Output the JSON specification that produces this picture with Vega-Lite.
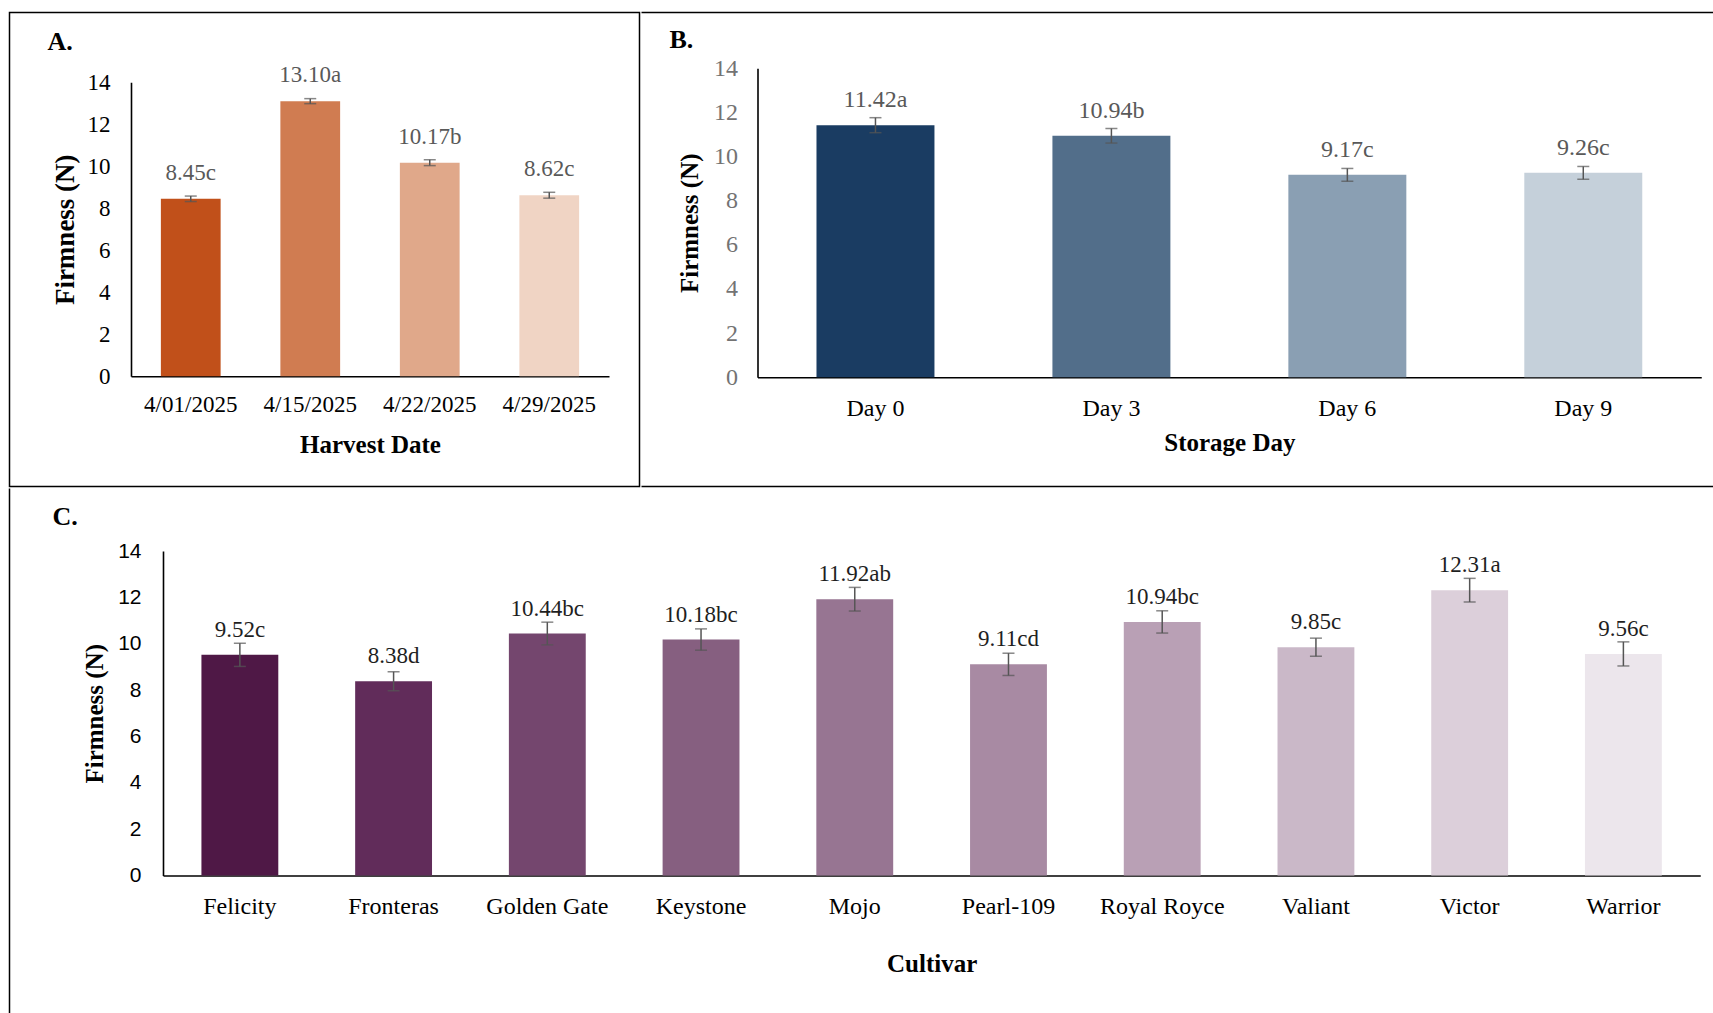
{
  "$schema": "https://vega.github.io/schema/vega-lite/v6.json",
  "padding": {"left": 8.5, "top": 11.5, "right": 0, "bottom": 0},
  "background": "white",
  "spacing": 0,
  "config": {
    "font": "Liberation Serif",
    "axis": {"grid": false, "ticks": false, "tickSize": 0, "domainColor": "#000000", "domainWidth": 1.6, "labelFont": "Liberation Serif", "titleFont": "Liberation Serif", "titleFontWeight": "bold", "labelColor": "#000000", "titleColor": "#000000"},
    "legend": {"disable": true}
  },
  "resolve": {"scale": {"color": "independent", "x": "independent", "y": "independent"}},
  "datasets": {
    "harvest": [
      {"date": "4/01/2025", "mean": 8.45, "se": 0.13, "label": "8.45c"},
      {"date": "4/15/2025", "mean": 13.10, "se": 0.12, "label": "13.10a"},
      {"date": "4/22/2025", "mean": 10.17, "se": 0.14, "label": "10.17b"},
      {"date": "4/29/2025", "mean": 8.62, "se": 0.14, "label": "8.62c"}
    ],
    "storage": [
      {"day": "Day 0", "mean": 11.42, "se": 0.34, "label": "11.42a"},
      {"day": "Day 3", "mean": 10.94, "se": 0.33, "label": "10.94b"},
      {"day": "Day 6", "mean": 9.17, "se": 0.29, "label": "9.17c"},
      {"day": "Day 9", "mean": 9.26, "se": 0.29, "label": "9.26c"}
    ],
    "cultivar": [
      {"cultivar": "Felicity", "mean": 9.52, "se": 0.50, "label": "9.52c"},
      {"cultivar": "Fronteras", "mean": 8.38, "se": 0.41, "label": "8.38d"},
      {"cultivar": "Golden Gate", "mean": 10.44, "se": 0.49, "label": "10.44bc"},
      {"cultivar": "Keystone", "mean": 10.18, "se": 0.46, "label": "10.18bc"},
      {"cultivar": "Mojo", "mean": 11.92, "se": 0.51, "label": "11.92ab"},
      {"cultivar": "Pearl-109", "mean": 9.11, "se": 0.48, "label": "9.11cd"},
      {"cultivar": "Royal Royce", "mean": 10.94, "se": 0.48, "label": "10.94bc"},
      {"cultivar": "Valiant", "mean": 9.85, "se": 0.39, "label": "9.85c"},
      {"cultivar": "Victor", "mean": 12.31, "se": 0.51, "label": "12.31a"},
      {"cultivar": "Warrior", "mean": 9.56, "se": 0.52, "label": "9.56c"}
    ]
  },
  "vconcat": [
    {
      "hconcat": [
        {
          "width": 630,
          "height": 474,
          "view": {"stroke": "#000000", "strokeWidth": 1.5, "fill": "white"},
          "title": {"text": "A.", "anchor": "start", "frame": "group", "offset": -63, "dx": 38, "baseline": "alphabetic", "font": "Liberation Serif", "fontSize": 26, "fontWeight": "bold", "color": "#000000"},
          "data": {"name": "harvest"},
          "encoding": {
            "x": {"field": "date", "type": "nominal", "sort": null,
              "scale": {"range": [121.5, 599.5], "paddingInner": 0.5, "paddingOuter": 0.25},
              "axis": {"title": "Harvest  Date", "labelAngle": 0, "labelFontSize": 23, "titleFontSize": 25, "labelPadding": 17, "titlePadding": 16, "offset": -110.25}},
            "y": {"field": "mean", "type": "quantitative",
              "scale": {"domain": [0, 14], "range": [363.75, 69.75], "nice": false, "zero": true},
              "axis": {"title": "Firmness (N)", "values": [0, 2, 4, 6, 8, 10, 12, 14], "labelFontSize": 23, "titleFontSize": 27, "labelPadding": 21, "titlePadding": 8, "offset": -121.5}}
          },
          "layer": [
            {"mark": {"type": "bar"},
             "encoding": {"color": {"field": "date", "type": "nominal", "sort": null,
               "scale": {"domain": ["4/01/2025", "4/15/2025", "4/22/2025", "4/29/2025"], "range": ["#C1501A", "#D07C51", "#E0A88A", "#F0D4C4"]}}}},
            {"mark": {"type": "errorbar", "ticks": {"size": 12, "thickness": 1.5}, "thickness": 1.5, "color": "#555555"},
             "encoding": {"yError": {"field": "se"}}},
            {"mark": {"type": "text", "baseline": "alphabetic", "dy": -19, "fontSize": 23, "color": "#595959", "font": "Liberation Serif"},
             "encoding": {"text": {"field": "label"}}}
          ]
        },
        {
          "width": 1073,
          "height": 474,
          "view": {"stroke": "#000000", "strokeWidth": 1.5, "fill": "white", "strokeDash": [1073, 474, 1073, 474]},
          "title": {"text": "B.", "anchor": "start", "frame": "group", "offset": -61, "dx": 28, "baseline": "alphabetic", "font": "Liberation Serif", "fontSize": 26, "fontWeight": "bold", "color": "#000000"},
          "data": {"name": "storage"},
          "encoding": {
            "x": {"field": "day", "type": "nominal", "sort": null,
              "scale": {"range": [116, 1059.75], "paddingInner": 0.5, "paddingOuter": 0.25},
              "axis": {"title": "Storage Day", "labelAngle": 0, "labelFontSize": 24, "titleFontSize": 25, "labelPadding": 19, "titlePadding": 10, "offset": -109.25}},
            "y": {"field": "mean", "type": "quantitative",
              "scale": {"domain": [0, 14], "range": [364.75, 55.75], "nice": false, "zero": true},
              "axis": {"title": "Firmness  (N)", "values": [0, 2, 4, 6, 8, 10, 12, 14], "labelFontSize": 24, "labelColor": "#737373", "titleFontSize": 25, "labelPadding": 20, "titlePadding": 11, "offset": -116}}
          },
          "layer": [
            {"mark": {"type": "bar"},
             "encoding": {"color": {"field": "day", "type": "nominal", "sort": null,
               "scale": {"domain": ["Day 0", "Day 3", "Day 6", "Day 9"], "range": ["#1A3C62", "#526E8A", "#8A9FB3", "#C5D0DA"]}}}},
            {"mark": {"type": "errorbar", "ticks": {"size": 12, "thickness": 1.5}, "thickness": 1.5, "color": "#555555"},
             "encoding": {"yError": {"field": "se"}}},
            {"mark": {"type": "text", "baseline": "alphabetic", "dy": -18, "fontSize": 24, "color": "#595959", "font": "Liberation Serif"},
             "encoding": {"text": {"field": "label"}}}
          ]
        }
      ],
      "spacing": 0,
      "resolve": {"scale": {"color": "independent", "x": "independent", "y": "independent"}}
    },
    {
      "width": 1703,
      "height": 526,
      "view": {"stroke": "#000000", "strokeWidth": 1.5, "fill": "white", "strokeDash": [0, 3932, 600, 0]},
      "title": {"text": "C.", "anchor": "start", "frame": "group", "offset": -62, "dx": 43, "baseline": "alphabetic", "font": "Liberation Serif", "fontSize": 26, "fontWeight": "bold", "color": "#000000"},
      "data": {"name": "cultivar"},
      "encoding": {
        "x": {"field": "cultivar", "type": "nominal", "sort": null,
          "scale": {"range": [153.5, 1690.75], "paddingInner": 0.5, "paddingOuter": 0.25},
          "axis": {"title": "Cultivar", "labelAngle": 0, "labelFontSize": 24, "titleFontSize": 25, "labelPadding": 19, "titlePadding": 33, "offset": -139}},
        "y": {"field": "mean", "type": "quantitative",
          "scale": {"domain": [0, 14], "range": [387, 62.5], "nice": false, "zero": true},
          "axis": {"title": "Firmness (N)", "values": [0, 2, 4, 6, 8, 10, 12, 14], "labelFont": "Liberation Sans", "labelFontSize": 21, "titleFontSize": 25, "labelPadding": 22, "titlePadding": 10, "offset": -153.5}}
      },
      "layer": [
        {"mark": {"type": "bar"},
         "encoding": {"color": {"field": "cultivar", "type": "nominal", "sort": null,
           "scale": {"domain": ["Felicity", "Fronteras", "Golden Gate", "Keystone", "Mojo", "Pearl-109", "Royal Royce", "Valiant", "Victor", "Warrior"],
                     "range": ["#4F1846", "#612C5A", "#74466E", "#865F80", "#977592", "#A88AA3", "#B9A0B5", "#CAB8C8", "#DCCFDA", "#ECE6EC"]}}}},
        {"mark": {"type": "errorbar", "ticks": {"size": 12, "thickness": 1.5}, "thickness": 1.5, "color": "#555555"},
         "encoding": {"yError": {"field": "se"}}},
        {"mark": {"type": "text", "baseline": "alphabetic", "dy": -18, "fontSize": 23, "color": "#1f1f1f", "font": "Liberation Serif"},
         "encoding": {"text": {"field": "label"}}}
      ]
    }
  ]
}
